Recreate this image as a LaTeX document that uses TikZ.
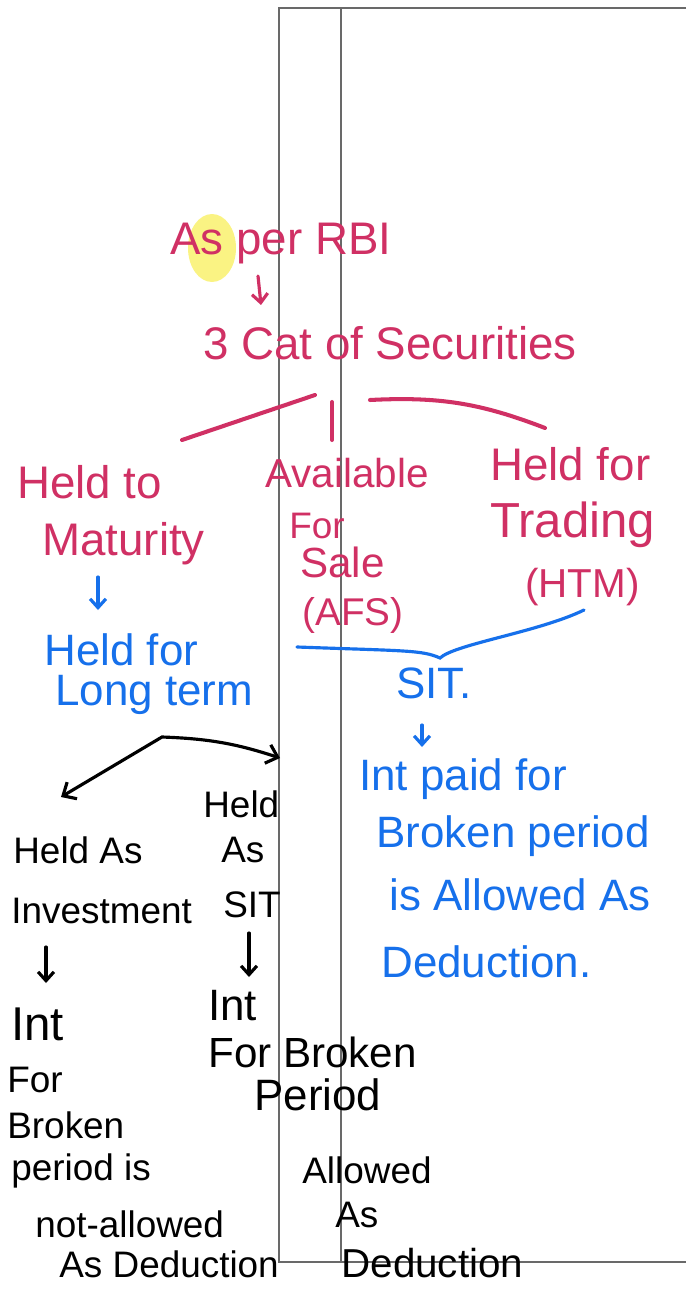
\documentclass[tikz,border=0pt]{standalone}
\usepackage{fontspec}
\setmainfont{Liberation Sans}
\usetikzlibrary{calc,arrows.meta}
\definecolor{rbiPink}{RGB}{208,48,100}
\definecolor{noteBlue}{RGB}{22,112,235}
\definecolor{hiYellow}{RGB}{250,242,110}
\definecolor{frameGray}{RGB}{105,105,105}

\begin{document}
\begin{tikzpicture}[x=0.02cm,y=-0.02cm,
txt/.style={%
anchor=base west,
inner sep=0pt
},
rbitxt/.style={txt,text=rbiPink,font=\fontsize{26}{28}\selectfont},
bluetxt/.style={txt,text=noteBlue,font=\fontsize{25}{27}\selectfont},
inktxt/.style={txt,text=black,font=\fontsize{21}{23}\selectfont},
stroke/.style={line width=1.8pt,line cap=round},
arr/.style={stroke,-{Straight Barb[length=5pt,width=9pt]}},
frame/.style={frameGray,line width=0.8pt}
]
\fill[white](0,0)rectangle(686,1293);
%% page frame
\draw[frame](686,8)--(279,8)--(279,1262)--(686,1262);
\draw[frame](341,8)--(341,1262);
\fill[hiYellow,opacity=0.85](212,248)ellipse[x radius=0.48cm,y radius=0.68cm];
%% RBI
\node[rbitxt]at(170,255)(rbi){As per RBI};
\node[rbitxt]at(203,360)(cat){3 Cat of Securities};
\draw[arr,rbiPink]($(rbi.base west)+(88,21)$)--($(cat.base west)+(58,-55)$);
%% Categories
\node[rbitxt]at(17,498)(heldto){Held to};
\node[rbitxt]at(42,555)(mat){Maturity};
\node[rbitxt,font=\fontsize{23}{25}\selectfont]at(265,487)(avl){Available};
\node[rbitxt,font=\fontsize{21}{23}\selectfont]at(289,538)(afor){For};
\node[rbitxt,font=\fontsize{24}{26}\selectfont]at(300,577)(sale){Sale};
\node[rbitxt,font=\fontsize{22}{24}\selectfont]at(302,625)(afs){(AFS)};
\node[rbitxt]at(490,480)(hfor){Held for};
\node[rbitxt,font=\fontsize{28}{30}\selectfont]at(490,537)(trd){Trading};
\node[rbitxt,font=\fontsize{23}{25}\selectfont]at(525,597)(htm){(HTM)};
\draw[stroke,rbiPink,line width=2.3pt]($(heldto.base west)+(165,-58)$)--($(cat.base west)+(112,35)$);
\draw[stroke,rbiPink,line width=2.3pt]($(cat.base west)+(129,42)$)--($(avl.base west)+(67,-47)$);
\draw[stroke,rbiPink,line width=2.3pt]($(cat.base west)+(167,40)$)to[bend left=12]($(hfor.base west)+(55,-52)$);
%% Long term
\node[bluetxt]at(44,665)(lheld){Held for};
\node[bluetxt]at(55,705)(lterm){Long term};
\draw[arr,noteBlue]($(mat.base west)+(56,22)$)--($(lheld.base west)+(54,-55)$);
%% SIT
\draw[stroke,noteBlue]($(afs.base west)+(-5,22)$)
 .. controls +(110,4) and +(-18,-8) .. ($(htm.base west)+(-85,61)$)
 .. controls +(15,-14) and +(-45,22) .. ($(htm.base west)+(59,13)$);
\node[bluetxt]at(396,698)(sit){SIT.};
\node[bluetxt]at(359,790)(ipf){Int paid for};
\node[bluetxt]at(376,847)(bper){Broken period};
\node[bluetxt]at(389,910)(allw){is Allowed As};
\node[bluetxt]at(381,977)(ded){Deduction.};
\draw[arr,noteBlue]($(sit.base west)+(26,27)$)--($(ipf.base west)+(63,-43)$);
%% Held as investment / SIT
\node[inktxt]at(13,863)(hAs){Held As};
\node[inktxt]at(11,923)(inv){Investment};
\node[inktxt]at(203,817)(heldm){Held};
\node[inktxt]at(221,862)(asm){As};
\node[inktxt]at(223,917)(sitm){SIT};
\draw[stroke,{Straight Barb[length=6pt,width=11pt]}-{Straight Barb[length=6pt,width=11pt]}]
 ($(hAs.base west)+(48,-66)$)--($(lterm.base west)+(107,32)$)
 to[bend left=8]($(heldm.base west)+(77,-59)$);
%% Not allowed
\node[inktxt,font=\fontsize{27}{29}\selectfont]at(11,1040)(intl){Int};
\node[inktxt]at(7,1092)(forl){For};
\node[inktxt]at(7,1138)(brkl){Broken};
\node[inktxt]at(11,1180)(peris){period is};
\node[inktxt]at(35,1237)(nal){not-allowed};
\node[inktxt]at(59,1277)(asded){As Deduction};
\draw[arr]($(inv.base west)+(35,24)$)--($(intl.base west)+(35,-57)$);
%% Allowed
\node[inktxt,font=\fontsize{25}{27}\selectfont]at(208,1020)(intm){Int};
\node[inktxt,font=\fontsize{24}{26}\selectfont]at(208,1067)(fbr){For Broken};
\node[inktxt,font=\fontsize{25}{27}\selectfont]at(254,1110)(prd){Period};
\node[inktxt]at(302,1183)(alwd){Allowed};
\node[inktxt]at(335,1227)(asr){As};
\node[inktxt,font=\fontsize{23}{25}\selectfont]at(341,1277)(dedr){Deduction};
\draw[arr]($(sitm.base west)+(26,16)$)--($(intm.base west)+(41,-43)$);
\end{tikzpicture}
\end{document}
